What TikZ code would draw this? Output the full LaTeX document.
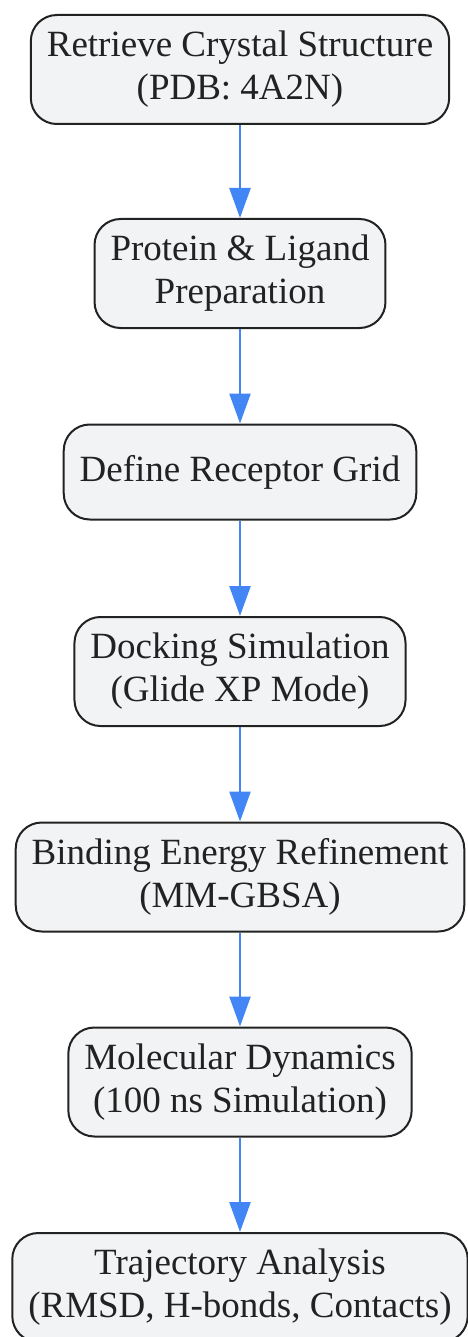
\documentclass[tikz,border=0pt]{standalone}
\usepackage{fontspec}
\setmainfont{Liberation Serif}
\usepackage{xcolor}
\usepackage{tikz}
\usetikzlibrary{arrows.meta}

\definecolor{boxFill}{RGB}{242,243,245}
\definecolor{boxLine}{RGB}{34,34,34}
\definecolor{flowBlue}{RGB}{66,133,244}

\begin{document}
\begin{tikzpicture}[x=1pt, y=-1pt,
    stepbox/.style={draw=boxLine, fill=boxFill, line width=2pt, rounded corners=26pt,
        align=center, inner xsep=16pt, inner ysep=0pt, minimum height=109pt,
        text=boxLine, font=\fontsize{37}{43}\selectfont},
    flow/.style={draw=flowBlue, line width=2.5pt, -{Triangle[length=30pt,width=21pt]}}]

        \useasboundingbox (0,0) rectangle (467,1337);

        % pipeline steps
        \node [stepbox] (retrieve) at (240,69.5) {Retrieve Crystal Structure\\(PDB: 4A2N)};
        \node [stepbox] (prep) at (240,273.5) {Protein \& Ligand\\Preparation};
        \node [stepbox, minimum height=95pt] (grid) at (240,472) {Define Receptor Grid};
        \node [stepbox] (dock) at (240,671.5) {Docking Simulation\\(Glide XP Mode)};
        \node [stepbox] (mmgbsa) at (240,877) {Binding Energy Refinement\\(MM-GBSA)};
        \node [stepbox] (md) at (240,1082) {Molecular Dynamics\\(100 ns Simulation)};
        \node [stepbox] (traj) at (240,1287.5) {Trajectory Analysis\\(RMSD, H-bonds, Contacts)};

        % arrows
        \draw [flow] (retrieve.south) -- (prep.north);
        \draw [flow] (prep.south) -- (grid.north);
        \draw [flow] (grid.south) -- (dock.north);
        \draw [flow] (dock.south) -- (mmgbsa.north);
        \draw [flow] (mmgbsa.south) -- (md.north);
        \draw [flow] (md.south) -- (traj.north);

\end{tikzpicture}
\end{document}
